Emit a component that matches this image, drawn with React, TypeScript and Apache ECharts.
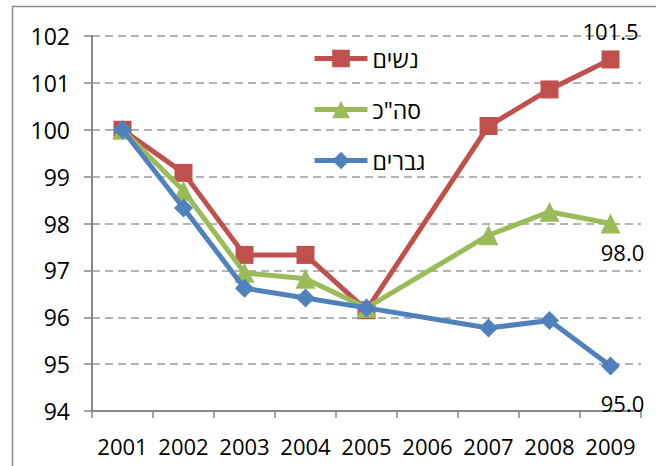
import React, { useEffect, useRef } from "react";
import * as echarts from "echarts";

const years = ["2001", "2002", "2003", "2004", "2005", "2006", "2007", "2008", "2009"];
const seriesNames = ["נשים", 'סה"כ', "גברים"];
const women: (number | null)[] = [100, 99.08, 97.33, 97.33, 96.15, null, 100.08, 100.86, 101.5];
const total: (number | null)[] = [100, 98.7, 96.95, 96.82, 96.2, null, 97.75, 98.25, 98.0];
const men: (number | null)[] = [100, 98.33, 96.62, 96.41, 96.2, null, 95.77, 95.93, 94.96];
const colors = ["#C0504D", "#9BBB59", "#4F81BD"];
const symbols = ["rect", "triangle", "diamond"];
const symbolSizes = [18, 20, 19];
const yMin = 94;
const yMax = 102;
const yStep = 1;

const FONT = "'Open Sans', 'DejaVu Sans', sans-serif";

export default function App() {
  const ref = useRef<HTMLDivElement>(null);
  useEffect(() => {
    if (!ref.current) return;
    const chart = echarts.init(ref.current, undefined, { renderer: "svg" });
    const lastLabels = [
      { position: "top", distance: 8, offset: [0, 0] },
      { position: "bottom", distance: 7, offset: [12, 0] },
      { position: "bottom", distance: 16, offset: [12, 0] },
    ];
    const all = [women, total, men];
    const series = all.map((vals, si) => ({
      name: seriesNames[si],
      type: "line",
      connectNulls: true,
      symbol: symbols[si],
      symbolSize: symbolSizes[si],
      z: 2 + si,
      lineStyle: { color: colors[si], width: 5 },
      itemStyle: { color: colors[si] },
      data: vals.map((v, i) =>
        i === vals.length - 1 && v !== null
          ? {
              value: v,
              label: {
                show: true,
                position: lastLabels[si].position,
                distance: lastLabels[si].distance,
                offset: lastLabels[si].offset,
                formatter: () => (v as number).toFixed(1),
                color: "#000",
                fontSize: 22,
                fontFamily: FONT,
              },
            }
          : v
      ),
    }));
    chart.setOption({
      animation: false,
      backgroundColor: "#fff",
      textStyle: { fontFamily: FONT },
      graphic: [
        {
          type: "rect",
          shape: { x: 12.5, y: 6.5, width: 700, height: 500 },
          style: { fill: "none", stroke: "#8c8c8c", lineWidth: 1.5 },
          silent: true,
        },
      ],
      grid: { left: 92, right: 15, top: 36, bottom: 55, containLabel: false },
      legend: {
        orient: "vertical",
        left: 312,
        top: 47,
        padding: 0,
        itemWidth: 53,
        itemHeight: 22,
        itemGap: 28,
        lineStyle: { width: 5 },
        textStyle: { fontSize: 23, color: "#000", fontFamily: FONT },
        data: seriesNames,
      },
      xAxis: {
        type: "category",
        data: years,
        boundaryGap: true,
        axisLine: { show: true, lineStyle: { color: "#868686", width: 2 } },
        axisTick: { show: true, length: 7, lineStyle: { color: "#868686", width: 1.5 } },
        axisLabel: { color: "#000", fontSize: 22, margin: 24, fontFamily: FONT, interval: 0 },
        splitLine: { show: false },
      },
      yAxis: {
        type: "value",
        min: yMin,
        max: yMax,
        interval: yStep,
        axisLine: { show: true, lineStyle: { color: "#868686", width: 2 } },
        axisTick: { show: true, length: 8, lineStyle: { color: "#868686", width: 1.5 } },
        axisLabel: { color: "#000", fontSize: 23, margin: 22, fontFamily: FONT },
        splitLine: { show: true, lineStyle: { color: "#9a9a9a", width: 1.5, type: [8, 5] } },
      },
      series,
    });
    return () => chart.dispose();
  }, []);
  return (
    <div
      ref={ref}
      style={{ position: "fixed", left: 0, top: 0, width: 656, height: 466 }}
    />
  );
}
